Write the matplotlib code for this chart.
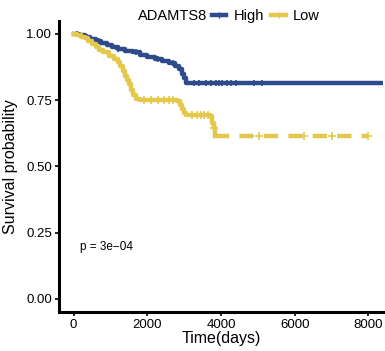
import matplotlib
matplotlib.use('Agg')
import matplotlib.pyplot as plt
from matplotlib.lines import Line2D

plt.rcParams['font.family'] = ['Liberation Sans', 'DejaVu Sans']

# Kaplan-Meier step values
high_time = [0, 150, 300, 450, 600, 750, 900, 1050, 1200, 1400, 1600, 1800, 2000,
             2200, 2400, 2600, 2750, 2850, 2950, 3000, 3050, 8400]
high_surv = [1.0, 0.995, 0.988, 0.982, 0.975, 0.966, 0.958, 0.951, 0.943, 0.935, 0.93,
             0.921, 0.913, 0.905, 0.898, 0.89, 0.878, 0.868, 0.85, 0.835, 0.815, 0.815]
high_cens_time = [80, 350, 700, 1200, 1700, 2300, 2700, 3270, 3400, 3590, 3720, 3860,
                  3950, 4030, 4160, 4260, 4400, 4890, 5110]

low_time = [0, 100, 200, 300, 400, 500, 600, 700, 800, 950, 1100, 1200, 1260, 1330,
            1400, 1450, 1500, 1560, 1620, 1700, 1800, 2800, 2900, 2950, 3000, 3050,
            3700, 3750, 3800, 3850]
low_surv = [1.0, 0.995, 0.99, 0.985, 0.975, 0.962, 0.952, 0.94, 0.93, 0.915, 0.905,
            0.895, 0.88, 0.86, 0.84, 0.825, 0.81, 0.79, 0.77, 0.755, 0.75, 0.745,
            0.73, 0.715, 0.70, 0.695, 0.69, 0.665, 0.645, 0.615]
low_tail_time = [3850, 8000]
low_tail_surv = [0.615, 0.615]
low_cens_time = [1900, 2100, 2300, 2450, 2600, 2700, 3200, 3350, 3450, 3550, 3650,
                 3810, 5030, 6240, 7000, 8000]

p_text = 'p = 3e\u221204'
blue = '#2D4A8A'
yellow = '#E3C84C'


def surv_at(times, survs, t):
    s = survs[0]
    for ti, si in zip(times, survs):
        if ti <= t:
            s = si
    return s


fig = plt.figure(figsize=(3.85, 3.51), dpi=100)
ax = fig.add_axes([0.153, 0.111, 0.842, 0.83])

ax.step(high_time, high_surv, where='post', color=blue, lw=3.2)
ax.plot(high_cens_time, [surv_at(high_time, high_surv, t) for t in high_cens_time],
        '+', color=blue, ms=5, mew=1.2)

ax.step(low_time, low_surv, where='post', color=yellow, lw=3.2)
ax.plot(low_tail_time, low_tail_surv, color=yellow, lw=3.2,
        linestyle=(0, (3.2, 2.3)), dash_capstyle='butt')
all_low_t = low_time + low_tail_time
all_low_s = low_surv + low_tail_surv
ax.plot(low_cens_time, [surv_at(all_low_t, all_low_s, t) for t in low_cens_time],
        '+', color=yellow, ms=6, mew=1.2)

ax.text(160, 0.196, p_text, fontsize=8.5, va='center', ha='left')

ax.set_xlim(-400, 8400)
ax.set_ylim(-0.05, 1.05)
ax.set_xticks([0, 2000, 4000, 6000, 8000])
ax.set_yticks([0, 0.25, 0.5, 0.75, 1.0])
ax.set_yticklabels(['0.00', '0.25', '0.50', '0.75', '1.00'])
for s in ['top', 'right']:
    ax.spines[s].set_visible(False)
for s in ['left', 'bottom']:
    ax.spines[s].set_linewidth(2.2)
ax.tick_params(length=3, width=1.2, labelsize=9.5, colors='black', pad=2)
ax.set_xlabel('Time(days)', fontsize=11.5, labelpad=0)
ax.set_ylabel('Survival probability', fontsize=11.5, labelpad=6)

handles = [Line2D([], [], color=blue, lw=3.2, marker='+', ms=5),
           Line2D([], [], color=yellow, lw=3.2, marker='+', ms=5)]
fig.text(0.358, 0.955, 'ADAMTS8', fontsize=10.5, va='center', ha='left')
fig.legend(handles, ['High', 'Low'], ncol=2, frameon=False, fontsize=10.5,
           loc='center left', bbox_to_anchor=(0.55, 0.955), handlelength=1.0,
           handletextpad=0.5, columnspacing=0.5, borderaxespad=0, borderpad=0)

fig.savefig('out.png', dpi=100)
